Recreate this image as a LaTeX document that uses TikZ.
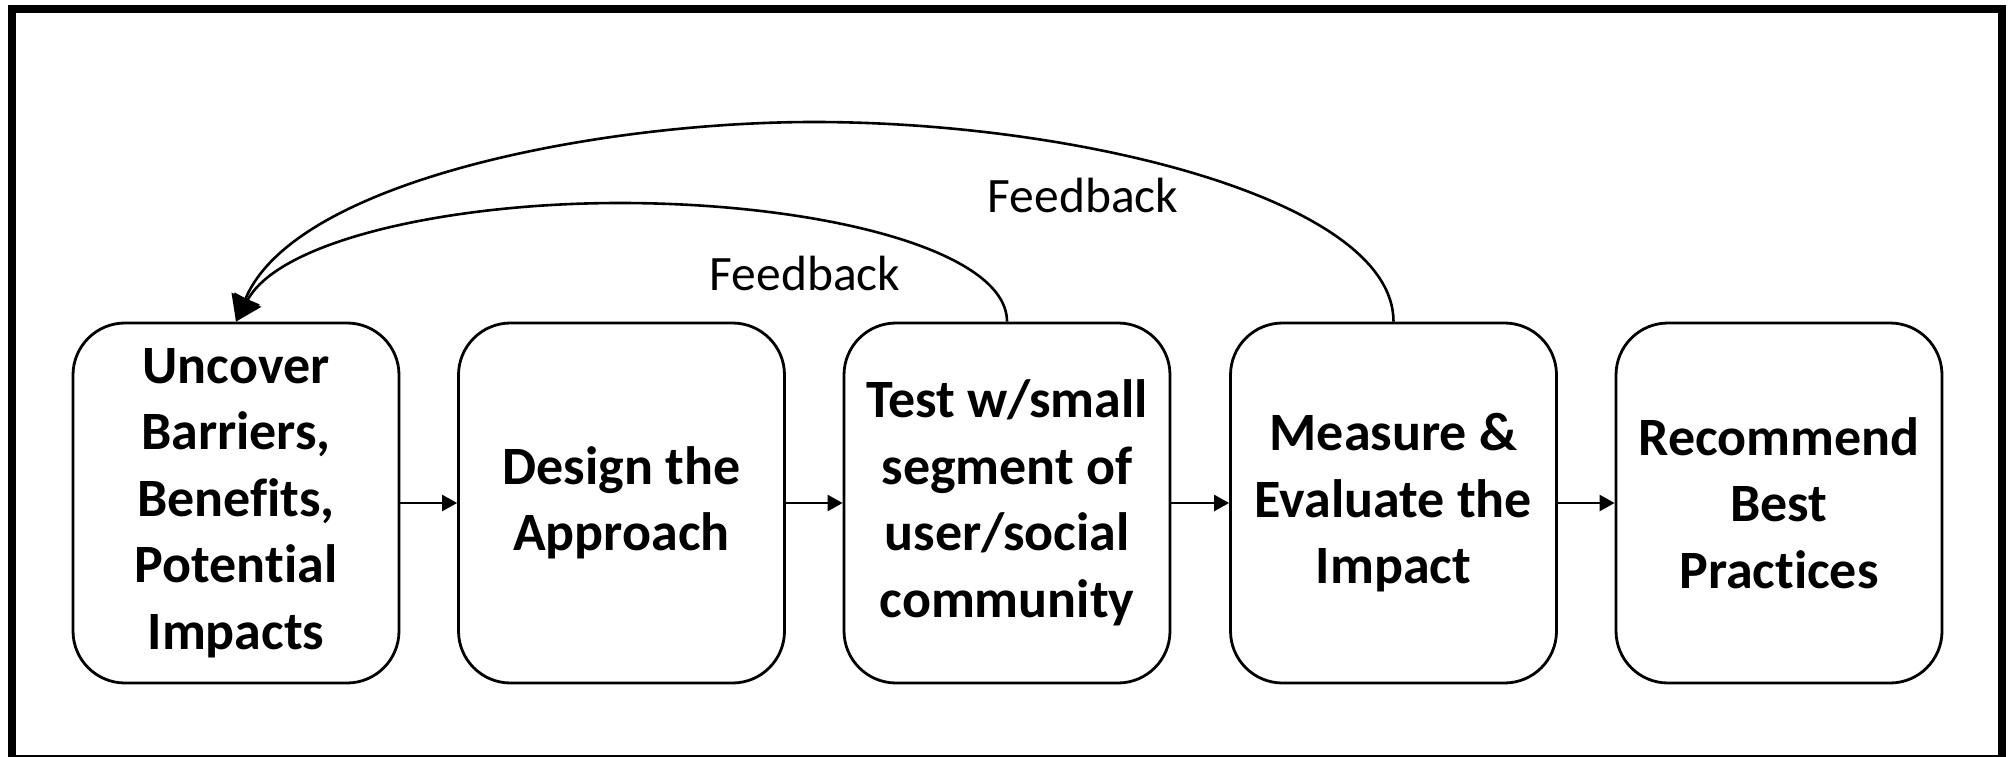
\documentclass[tikz,border=0pt]{standalone}
\usepackage{fontspec}
\setmainfont{Carlito}[Ligatures={NoCommon,NoRare}]
\usetikzlibrary{arrows.meta}
\tikzset{
  stepbox/.style={draw=black, line width=2.8pt, rounded corners=52pt,
    minimum width=326pt, minimum height=360pt, inner sep=0pt,
    align=center, font=\fontsize{54}{66.5}\selectfont\bfseries},
  flow/.style={line width=2.5pt, -{Triangle[length=15pt,width=16pt]}},
  fb/.style={line width=2.6pt, -{Triangle[length=25pt,width=30pt]}},
  fblabel/.style={anchor=base, font=\fontsize{49.5}{60}\selectfont, inner sep=0pt}
}
\begin{document}
\begin{tikzpicture}[x=1pt,y=-1pt]
\useasboundingbox (0,0) rectangle (2009,757);
\draw[line width=8pt] (11.5,9) rectangle (2001.5,759);
\node[stepbox] (b1) at (236,503) {Uncover\\Barriers,\\Benefits,\\Potential\\Impacts};
\node[stepbox] (b2) at (621.5,503) {Design the\\Approach};
\node[stepbox] (b3) at (1007,503) {Test w/small\\segment of\\user/social\\community};
\node[stepbox] (b4) at (1393.5,503) {Measure \&\\Evaluate the\\Impact};
\node[stepbox] (b5) at (1779,503) {Recommend\\Best\\Practices};
\draw[flow] (b1.east) -- (b2.west);
\draw[flow] (b2.east) -- (b3.west);
\draw[flow] (b3.east) -- (b4.west);
\draw[flow] (b4.east) -- (b5.west);
\draw[fb] (b4.north) .. controls (1393.5,200) and (1080,122) .. (814,122)
  .. controls (600,122) and (295,180) .. (b1.north);
\draw[fb] (b3.north) .. controls (1007,250) and (820,203) .. (620,203)
  .. controls (450,203) and (280,240) .. (b1.north);
\node[fblabel] (fb1) at (805,290) {Feedback};
\node[fblabel] (fb2) at (1083,212) {Feedback};
\end{tikzpicture}
\end{document}
